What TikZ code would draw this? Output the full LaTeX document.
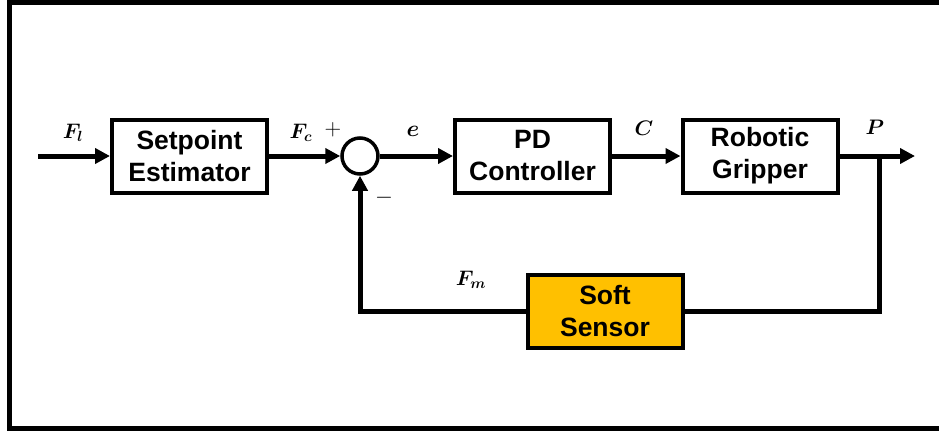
\RequirePackage{fix-cm}
\documentclass[tikz,border=0pt]{standalone}
\usepackage{amsmath,bm}
\usepackage{fontspec}
\setsansfont{Liberation Sans}
\usetikzlibrary{arrows.meta,shapes.geometric}
\definecolor{sensorfill}{HTML}{FFC000}
\begin{document}
\begin{tikzpicture}[x=1pt,y=-1pt,
  blk/.style={draw, line width=4pt, minimum width=155pt, minimum height=73pt, align=center,
    font=\sffamily\bfseries\fontsize{26.5}{32}\selectfont, inner sep=0pt},
  sig/.style={line width=5pt},
  arr/.style={sig, -{Triangle[length=15pt,width=15pt]}},
  lbl/.style={font=\fontsize{21}{24}\selectfont, inner sep=0pt},
  sgn/.style={font=\fontsize{23}{26}\selectfont, inner sep=0pt}]
\useasboundingbox (0,0) rectangle (939,431);
% frame
\fill (7,0) rectangle (939,5);
\fill (7,0) rectangle (12,431);
\fill (7,426) rectangle (939,431);
% blocks
\node[blk] (se) at (189.5,156) {Setpoint\\Estimator};
\node[blk] (pd) at (532.5,156) {PD\\Controller};
\node[blk] (rg) at (760,156) {Robotic\\Gripper};
\node[blk, fill=sensorfill] (ss) at (605,311) {Soft\\Sensor};
\node[draw, circle, line width=3.5pt, minimum size=36pt, inner sep=0pt] (sum) at (360,156) {};
% coordinates
\coordinate (in) at (38,156);
\coordinate (out) at (915,156);
\coordinate (br) at (879,156);
% connectors
\draw[arr] (in) -- (se.west);
\draw[arr] (se.east) -- (sum.west);
\draw[arr] (sum.east) -- (pd.west);
\draw[arr] (pd.east) -- (rg.west);
\draw[arr] (rg.east) -- (out);
\draw[sig] (br) |- (ss.east);
\draw[arr] (ss.west) -| (sum.south);
% labels
\node[lbl] (lfl) at (73,133) {$\bm{F_l}$};
\node[lbl] (lfc) at (301,133) {$\bm{F_c}$};
\node[sgn] (lplus) at (333,130) {$+$};
\node[sgn] (le) at (413,131) {$\bm{e}$};
\node[sgn] (lminus) at (384,198) {$-$};
\node[lbl] (lc) at (644,128) {$\bm{C}$};
\node[lbl] (lp) at (875,127) {$\bm{P}$};
\node[lbl] (lfm) at (471,280) {$\bm{F_m}$};
\end{tikzpicture}
\end{document}
